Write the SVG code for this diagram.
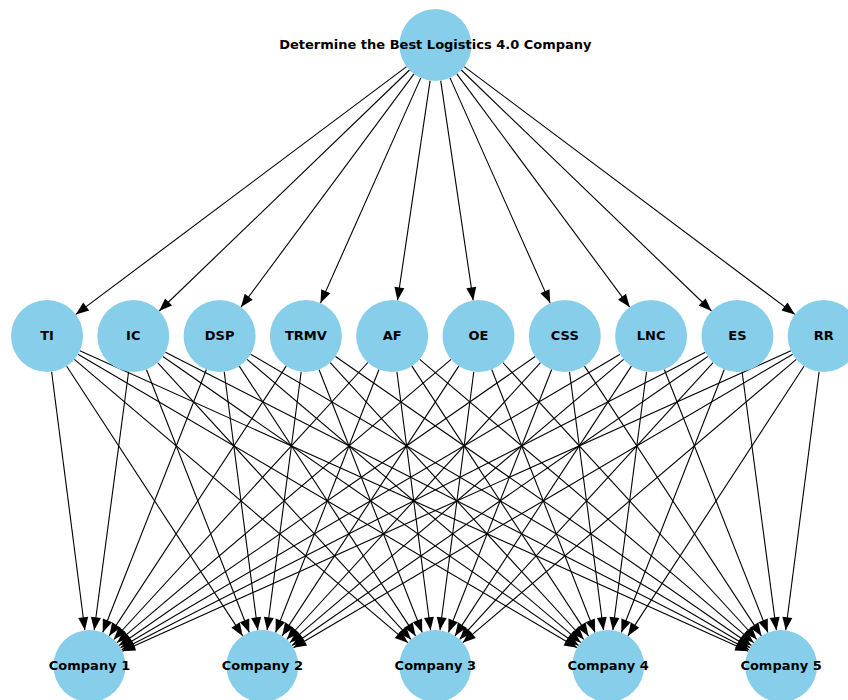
<svg xmlns="http://www.w3.org/2000/svg" width="848" height="700" viewBox="0 0 848 700">
<defs>
<marker id="ah" markerUnits="userSpaceOnUse" markerWidth="13" markerHeight="10" refX="13" refY="5" orient="auto" overflow="visible">
<path d="M0,0 L13,5 L0,10 z" fill="#000"/>
</marker>
<style>
.e line{stroke:#000;stroke-width:1.1;fill:none;marker-end:url(#ah)}
.n circle{fill:#87CEEB}
.n text{font-family:"DejaVu Sans","Liberation Sans",sans-serif;font-weight:bold;font-size:13px;fill:#000;text-anchor:middle;dominant-baseline:central}
</style>
</defs>
<rect width="848" height="700" fill="#fff"/>
<g id="connectors" class="e">
<line x1="406.6" y1="66.6" x2="75.8" y2="314.4"/>
<line x1="409.5" y1="70.0" x2="159.2" y2="311.0"/>
<line x1="414.0" y1="73.9" x2="241.0" y2="307.1"/>
<line x1="420.8" y1="77.9" x2="320.5" y2="303.1"/>
<line x1="430.1" y1="80.6" x2="397.5" y2="300.4"/>
<line x1="440.7" y1="80.6" x2="473.2" y2="300.4"/>
<line x1="450.0" y1="77.9" x2="550.2" y2="303.1"/>
<line x1="456.8" y1="73.9" x2="629.7" y2="307.1"/>
<line x1="461.3" y1="70.0" x2="711.5" y2="311.0"/>
<line x1="464.2" y1="66.6" x2="794.9" y2="314.4"/>
<line x1="51.6" y1="371.7" x2="84.9" y2="630.3"/>
<line x1="66.7" y1="366.2" x2="242.7" y2="635.9"/>
<line x1="74.4" y1="359.3" x2="407.9" y2="642.7"/>
<line x1="78.0" y1="354.3" x2="577.2" y2="647.8"/>
<line x1="79.8" y1="350.8" x2="748.3" y2="651.2"/>
<line x1="128.6" y1="371.7" x2="94.2" y2="630.3"/>
<line x1="146.4" y1="369.5" x2="249.3" y2="632.5"/>
<line x1="157.6" y1="362.6" x2="411.0" y2="639.4"/>
<line x1="162.9" y1="356.5" x2="578.6" y2="645.5"/>
<line x1="165.4" y1="352.3" x2="749.0" y2="649.7"/>
<line x1="206.4" y1="369.5" x2="102.7" y2="632.5"/>
<line x1="224.2" y1="371.7" x2="257.8" y2="630.3"/>
<line x1="239.3" y1="366.1" x2="415.6" y2="635.9"/>
<line x1="247.0" y1="359.3" x2="580.8" y2="642.7"/>
<line x1="250.6" y1="354.2" x2="750.1" y2="647.8"/>
<line x1="286.2" y1="366.1" x2="109.2" y2="635.9"/>
<line x1="301.2" y1="371.7" x2="267.1" y2="630.3"/>
<line x1="319.0" y1="369.5" x2="422.2" y2="632.5"/>
<line x1="330.2" y1="362.6" x2="583.9" y2="639.5"/>
<line x1="335.5" y1="356.5" x2="751.5" y2="645.5"/>
<line x1="367.9" y1="362.5" x2="113.8" y2="639.5"/>
<line x1="379.0" y1="369.5" x2="275.6" y2="632.5"/>
<line x1="396.9" y1="371.7" x2="430.6" y2="630.3"/>
<line x1="411.9" y1="366.1" x2="588.5" y2="635.9"/>
<line x1="419.7" y1="359.3" x2="753.7" y2="642.7"/>
<line x1="451.1" y1="359.3" x2="117.0" y2="642.7"/>
<line x1="458.8" y1="366.1" x2="282.1" y2="635.9"/>
<line x1="473.8" y1="371.7" x2="440.0" y2="630.3"/>
<line x1="491.7" y1="369.5" x2="595.0" y2="632.5"/>
<line x1="502.8" y1="362.5" x2="756.8" y2="639.5"/>
<line x1="535.2" y1="356.5" x2="119.1" y2="645.5"/>
<line x1="540.5" y1="362.6" x2="286.7" y2="639.5"/>
<line x1="551.7" y1="369.5" x2="448.4" y2="632.5"/>
<line x1="569.5" y1="371.7" x2="603.5" y2="630.3"/>
<line x1="584.5" y1="366.1" x2="761.4" y2="635.9"/>
<line x1="620.1" y1="354.2" x2="120.5" y2="647.8"/>
<line x1="623.7" y1="359.3" x2="289.8" y2="642.7"/>
<line x1="631.4" y1="366.1" x2="455.0" y2="635.9"/>
<line x1="646.5" y1="371.7" x2="612.8" y2="630.3"/>
<line x1="664.3" y1="369.5" x2="767.9" y2="632.5"/>
<line x1="705.3" y1="352.3" x2="121.6" y2="649.7"/>
<line x1="707.8" y1="356.5" x2="292.0" y2="645.5"/>
<line x1="713.1" y1="362.6" x2="459.6" y2="639.4"/>
<line x1="724.3" y1="369.5" x2="621.3" y2="632.5"/>
<line x1="742.1" y1="371.7" x2="776.4" y2="630.3"/>
<line x1="790.9" y1="350.8" x2="122.3" y2="651.2"/>
<line x1="792.7" y1="354.3" x2="293.4" y2="647.8"/>
<line x1="796.3" y1="359.3" x2="462.7" y2="642.7"/>
<line x1="804.0" y1="366.2" x2="627.9" y2="635.9"/>
<line x1="819.1" y1="371.7" x2="785.7" y2="630.3"/>
</g>
<g id="goal" class="n"><circle cx="435.4" cy="45" r="36"/><text x="435.4" y="44">Determine the Best Logistics 4.0 Company</text></g>
<g id="TI" class="n"><circle cx="47" cy="336" r="36"/><text x="47" y="335">TI</text></g>
<g id="IC" class="n"><circle cx="133.3" cy="336" r="36"/><text x="133.3" y="335">IC</text></g>
<g id="DSP" class="n"><circle cx="219.6" cy="336" r="36"/><text x="219.6" y="335">DSP</text></g>
<g id="TRMV" class="n"><circle cx="305.9" cy="336" r="36"/><text x="305.9" y="335">TRMV</text></g>
<g id="AF" class="n"><circle cx="392.2" cy="336" r="36"/><text x="392.2" y="335">AF</text></g>
<g id="OE" class="n"><circle cx="478.5" cy="336" r="36"/><text x="478.5" y="335">OE</text></g>
<g id="CSS" class="n"><circle cx="564.8" cy="336" r="36"/><text x="564.8" y="335">CSS</text></g>
<g id="LNC" class="n"><circle cx="651.1" cy="336" r="36"/><text x="651.1" y="335">LNC</text></g>
<g id="ES" class="n"><circle cx="737.4" cy="336" r="36"/><text x="737.4" y="335">ES</text></g>
<g id="RR" class="n"><circle cx="823.7" cy="336" r="36"/><text x="823.7" y="335">RR</text></g>
<g id="company1" class="n"><circle cx="89.5" cy="666" r="36"/><text x="89.5" y="665">Company 1</text></g>
<g id="company2" class="n"><circle cx="262.4" cy="666" r="36"/><text x="262.4" y="665">Company 2</text></g>
<g id="company3" class="n"><circle cx="435.3" cy="666" r="36"/><text x="435.3" y="665">Company 3</text></g>
<g id="company4" class="n"><circle cx="608.2" cy="666" r="36"/><text x="608.2" y="665">Company 4</text></g>
<g id="company5" class="n"><circle cx="781.1" cy="666" r="36"/><text x="781.1" y="665">Company 5</text></g>
</svg>
